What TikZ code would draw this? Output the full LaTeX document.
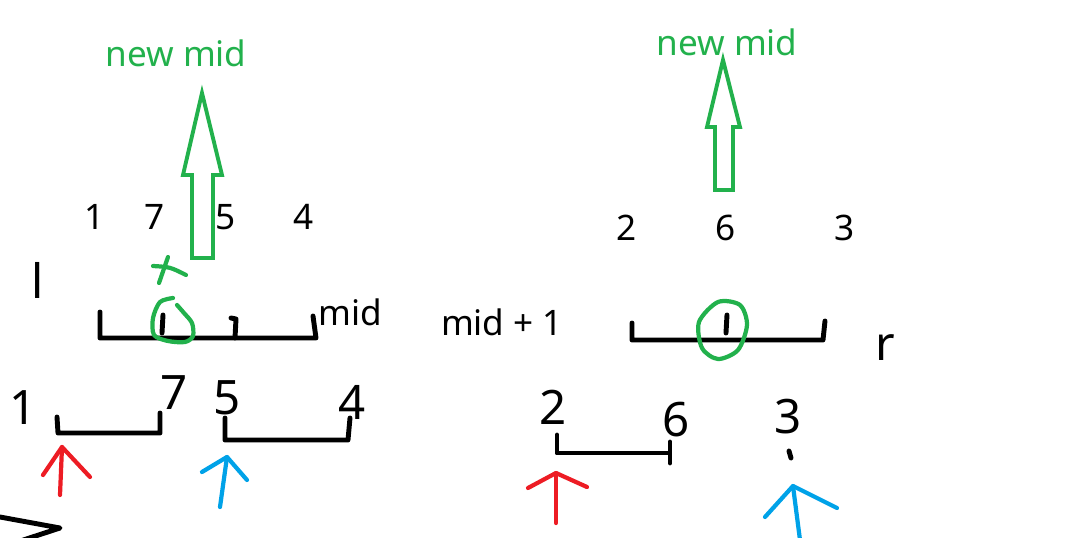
\documentclass[tikz,border=0pt]{standalone}
\usepackage{fontspec}
\setmainfont{Noto Sans}
\usetikzlibrary{arrows.meta, positioning}
\definecolor{paintgreen}{RGB}{34,177,76}
\definecolor{paintred}{RGB}{237,28,36}
\definecolor{paintblue}{RGB}{0,162,232}

\begin{document}
\begin{tikzpicture}[
          x=0.02cm, y=-0.02cm,
          typed/.style={font=\fontsize{20}{24}\selectfont, inner sep=0pt},
          newmid/.style={typed, text=paintgreen},
          hand/.style={font=\fontsize{27}{30}\selectfont\bfseries, inner sep=0pt},
          ink/.style={line width=2.8pt, line cap=round, line join=round},
          hollow/.style={draw=paintgreen, line width=2.2pt, line join=miter},
          greenmark/.style={draw=paintgreen, line width=2.4pt, line cap=round, line join=round},
          redarr/.style={draw=paintred, line width=2.4pt, line cap=round, line join=round},
          bluearr/.style={draw=paintblue, line width=2.4pt, line cap=round, line join=round}
        ]
          \useasboundingbox (0,0) rectangle (1080,538);

          % left half
          \node[newmid] (lnew) at (176,53) {new mid};
          \draw[hollow] (202,93) -- (222,175) -- (213,175) -- (213,258) -- (192,258) -- (192,175) -- (183,175) -- cycle;
          \node[typed] (la) at (95,217) {1};
          \node[typed] (lb) at (155,217) {7};
          \node[typed] (lc) at (226,217) {5};
          \node[typed] (ld) at (304,217) {4};
          \node[hand] (lbound) at (38,280) {l};
          \node[typed] (lmid) at (350,312) {mid};

          \draw[ink] (100,312) -- (100,338) -- (316,338) -- (313,316);
          \draw[ink] (163,315) -- (162,333);
          \draw[ink] (231,318) -- (236,319) -- (235,338);
          \draw[greenmark] (153,266) .. controls (170,267) .. (186,275);
          \draw[greenmark] (168,257) -- (159,283);
          \draw[greenmark] plot[smooth] coordinates {(173,298) (160,302) (153,318) (154,335) (168,341) (185,342) (193,336) (192,323) (184,313) (177,305)};

          \node[hand] (h1) at (23,408) {1};
          \node[hand] (h7) at (174,393) {7};
          \node[hand] (h5) at (227,398) {5};
          \node[hand] (h4) at (352,402) {4};
          \draw[ink] (57,417) -- (58,433) -- (160,433) -- (160,413);
          \draw[ink] (225,418) -- (225,440) -- (348,440) -- (350,418);

          \coordinate (redtipL) at (62,447);
          \coordinate (redtailL) at (60,495);
          \draw[redarr] (redtailL) -- (redtipL);
          \draw[redarr] (43,475) -- (redtipL) -- (90,477);
          \coordinate (bluetipL) at (227,457);
          \coordinate (bluetailL) at (220,507);
          \draw[bluearr] (bluetailL) -- (bluetipL);
          \draw[bluearr] (202,472) -- (bluetipL) -- (247,480);

          \draw[ink] (0,517) -- (60,528) -- (8,545);

          % right half
          \node[newmid] (rnew) at (727,42) {new mid};
          \draw[hollow] (723,60) -- (740,127) -- (733,127) -- (733,190) -- (715,190) -- (715,127) -- (707,127) -- cycle;
          \node[typed] (ra) at (627,228) {2};
          \node[typed] (rb) at (726,228) {6};
          \node[typed] (rc) at (845,228) {3};
          \node[typed] (rmid) at (502,322) {mid + 1};
          \node[hand] (rbound) at (885,348) {r};

          \draw[ink] (632,323) -- (632,340) -- (823,340) -- (825,321);
          \draw[ink] (727,315) -- (726,333);
          \draw[greenmark] plot[smooth cycle] coordinates {(718,302) (740,305) (747,325) (738,350) (718,359) (702,348) (699,322)};

          \node[hand] (h2) at (553,407) {2};
          \node[hand] (h6) at (676,420) {6};
          \node[hand] (h3) at (788,417) {3};
          \draw[ink] (789,451) -- (791,458);
          \draw[ink] (557,435) -- (557,453) -- (668,453);
          \draw[ink] (670,442) -- (670,463);

          \coordinate (redtipR) at (556,473);
          \coordinate (redtailR) at (556,523);
          \draw[redarr] (redtailR) -- (redtipR);
          \draw[redarr] (528,488) -- (redtipR) -- (587,487);
          \coordinate (bluetipR) at (793,486);
          \coordinate (bluetailR) at (800,540);
          \draw[bluearr] (bluetailR) -- (bluetipR);
          \draw[bluearr] (765,517) -- (bluetipR) -- (837,508);
        \end{tikzpicture}
\end{document}
